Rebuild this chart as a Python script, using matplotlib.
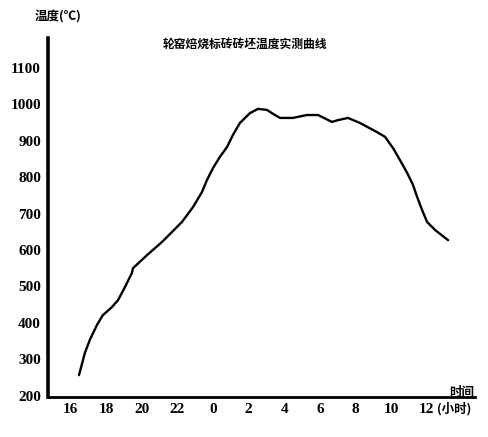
import matplotlib
matplotlib.use("Agg")
import matplotlib.pyplot as plt

# Data (time in hours, continuous from 16:00; temperature in deg C)
hours = [16.48, 16.81, 17.09, 17.49, 17.82, 18.33, 18.67, 19.06, 19.45, 19.51, 20.30, 21.14,
         22.26, 22.88, 23.38, 23.66, 24.00, 24.39, 24.79, 25.12, 25.51, 26.07, 26.53, 27.03,
         27.48, 27.76, 28.49, 29.27, 29.90, 30.68, 31.02, 31.58, 32.26, 33.21, 33.66, 34.11,
         34.50, 34.90, 35.23, 35.46, 35.74, 36.02, 36.47, 37.20]
temps = [256, 317, 353, 394, 421, 443, 462, 498, 537, 550, 586, 622,
         677, 718, 759, 792, 825, 856, 883, 916, 949, 976, 988, 985,
         971, 963, 963, 971, 971, 952, 957, 963, 949, 924, 911, 880,
         847, 812, 779, 746, 710, 677, 655, 627]

xtick_pos = [16, 18, 20, 22, 24, 26, 28, 30, 32, 34, 36]
xtick_labels = ['16', '18', '20', '22', '0', '2', '4', '6', '8', '10', '12']
ytick_pos = [200, 300, 400, 500, 600, 700, 800, 900, 1000, 1100]
ytick_labels = ['200', '300', '400', '500', '600', '700', '800', '900', '1000', '1100']

title = '轮窑焙烧标砖砖坯温度实测曲线'
ylabel = '温度(℃)'
xlabel = '时间'
xunit = '(小时)'

cjk = ['Noto Sans CJK SC', 'DejaVu Sans']
num = ['Liberation Serif', 'DejaVu Serif']

fig = plt.figure(figsize=(4.89, 4.37), dpi=100)
ax = fig.add_axes([48/489, 1-397/437, (475-48)/489, (397-38)/437])

ax.plot(hours, temps, color='black', lw=1.7, solid_capstyle='round')

ax.set_xlim(14.74, 38.71)
ax.set_ylim(195.9, 1182.7)

ax.spines['top'].set_visible(False)
ax.spines['right'].set_visible(False)
ax.spines['left'].set_linewidth(2.6)
ax.spines['bottom'].set_linewidth(2.0)

ax.set_xticks(xtick_pos)
ax.set_xticklabels(xtick_labels, family=num, fontweight='bold', fontsize=11)
ax.set_yticks(ytick_pos)
ax.set_yticklabels(ytick_labels, family=num, fontweight='bold', fontsize=11)
ax.tick_params(axis='both', length=0)
ax.tick_params(axis='y', pad=5)
ax.tick_params(axis='x', pad=4)

t = ax.text(36.55, 195.9, xunit, family=cjk, fontweight='bold', fontsize=9,
            ha='left', va='top')
t.set_y(195.9 - 15)

fig.text(245/489, 1-44/437, title, family=cjk, fontweight='bold', fontsize=8.5,
         ha='center', va='center')
fig.text(58/489, 1-17/437, ylabel, family=cjk, fontweight='bold', fontsize=9,
         ha='center', va='center')
fig.text(462/489, 1-392/437, xlabel, family=cjk, fontweight='bold', fontsize=9,
         ha='center', va='center')

fig.savefig('out.png', dpi=100, facecolor='white')
